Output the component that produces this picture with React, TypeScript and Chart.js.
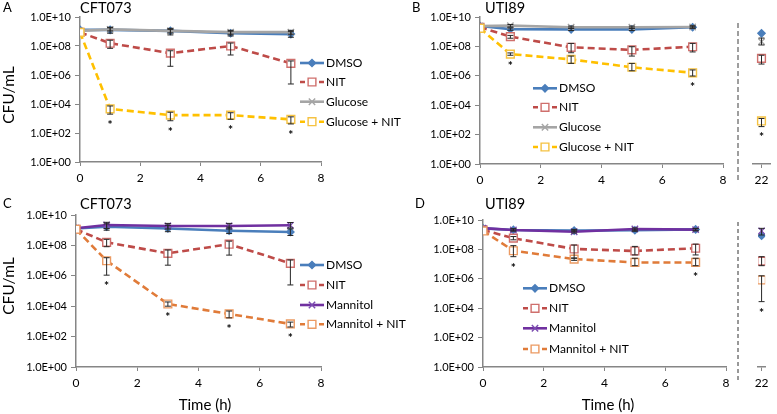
import React, { useEffect, useRef } from "react";
import { Chart, registerables } from "chart.js";
import { drawPoint } from "chart.js/helpers";

Chart.register(...registerables);

const FAMILY = "Lato, 'Open Sans', 'DejaVu Sans', sans-serif";
Chart.defaults.font.family = FAMILY;

// ---------- shared axis data ----------
const times = [0, 1, 3, 5, 7];
const lateTimes = [22];
const xTicks = [0, 2, 4, 6, 8];
const xTickLabels = ["0", "2", "4", "6", "8"];
const lateTicks = [22];
const lateTickLabels = ["22"];
const yTicks = [1, 1e2, 1e4, 1e6, 1e8, 1e10];
const yTickLabels = ["1.0E+00", "1.0E+02", "1.0E+04", "1.0E+06", "1.0E+08", "1.0E+10"];

const glucoseSeries = ["DMSO", "NIT", "Glucose", "Glucose + NIT"];
const mannitolSeries = ["DMSO", "NIT", "Mannitol", "Mannitol + NIT"];

// ---------- Panel A: CFT073, glucose ----------
const aDMSO = [1.3e9, 1.3e9, 1.1e9, 7.6e8, 6.6e8];
const aDMSOLo = [null, 7.6e8, 5.8e8, 4.9e8, 4.0e8];
const aDMSOHi = [null, 1.95e9, 1.65e9, 1.05e9, 9.8e8];
const aNIT = [8.7e8, 1.55e8, 3.2e7, 1.0e8, 6.3e6];
const aNITLo = [null, 6.9e7, 4.0e6, 2.4e7, 2.4e5];
const aNITHi = [null, 2.5e8, 4.7e7, 1.6e8, 9.3e6];
const aGlc = [1.1e9, 1.4e9, 1.1e9, 9.0e8, 9.0e8];
const aGlcLo = [null, 1.1e9, 8.0e8, 6.5e8, 6.5e8];
const aGlcHi = [null, 1.8e9, 1.4e9, 1.2e9, 1.2e9];
const aGlcNIT = [8.7e8, 4.6e3, 1.7e3, 1.7e3, 870];
const aGlcNITLo = [null, 2.0e3, 700, 880, 420];
const aGlcNITHi = [null, 7.3e3, 2.7e3, 2.5e3, 1.3e3];
const aGlcNITSig = [false, true, true, true, true];

// ---------- Panel B: UTI89, glucose ----------
const bDMSO = [2.45e9, 1.5e9, 1.45e9, 1.45e9, 2.0e9];
const bDMSOLo = [null, 1.25e9, 1.2e9, 1.2e9, 1.7e9];
const bDMSOHi = [null, 1.8e9, 1.75e9, 1.75e9, 2.4e9];
const bNIT = [2.0e9, 4.6e8, 8.7e7, 5.8e7, 9.5e7];
const bNITLo = [null, 3.6e8, 3.7e7, 2.2e7, 4.2e7];
const bNITHi = [null, 5.6e8, 1.6e8, 9.5e7, 1.6e8];
const bGlc = [2.45e9, 2.6e9, 2.0e9, 2.0e9, 2.1e9];
const bGlcLo = [null, 2.1e9, 1.7e9, 1.7e9, 1.8e9];
const bGlcHi = [null, 3.1e9, 2.4e9, 2.4e9, 2.5e9];
const bGlcNIT = [1.7e9, 3.0e7, 1.3e7, 3.8e6, 1.6e6];
const bGlcNITLo = [null, 2.5e7, 7.0e6, 2.2e6, 9.7e5];
const bGlcNITHi = [null, 3.6e7, 2.2e7, 7.0e6, 2.5e6];
const bGlcNITSig = [false, true, false, false, true];
// 22 h
const bDMSO22 = [7.8e8];
const bNIT22 = [1.55e7];
const bNIT22Lo = [6.3e6];
const bNIT22Hi = [2.5e7];
const bGlc22 = [2.1e8];
const bGlc22Lo = [1.25e8];
const bGlc22Hi = [3.7e8];
const bGlcNIT22 = [850];
const bGlcNIT22Lo = [350];
const bGlcNIT22Hi = [1.25e3];
const bGlcNIT22Sig = [true];

// ---------- Panel C: CFT073, mannitol ----------
const cDMSO = [1.3e9, 1.7e9, 1.3e9, 9.3e8, 7.6e8];
const cDMSOLo = [null, 1.0e9, 8.0e8, 6.0e8, 4.5e8];
const cDMSOHi = [null, 2.6e9, 2.1e9, 1.6e9, 1.2e9];
const cNIT = [1.15e9, 1.6e8, 3.0e7, 1.2e8, 6.6e6];
const cNITLo = [null, 8.2e7, 5.0e6, 2.3e7, 2.5e5];
const cNITHi = [null, 2.5e8, 5.0e7, 1.9e8, 1.1e7];
const cMan = [1.35e9, 2.2e9, 1.9e9, 1.9e9, 2.1e9];
const cManLo = [null, 1.3e9, 1.2e9, 1.2e9, 1.4e9];
const cManHi = [null, 3.3e9, 2.8e9, 2.8e9, 3.2e9];
const cManNIT = [1.15e9, 9.8e6, 1.4e4, 3.1e3, 680];
const cManNITLo = [null, 1.1e6, 1.0e4, 1.7e3, 430];
const cManNITHi = [null, 1.55e7, 1.9e4, 4.8e3, 900];
const cManNITSig = [false, true, true, true, true];

// ---------- Panel D: UTI89, mannitol ----------
const dDMSO = [2.7e9, 2.1e9, 1.9e9, 2.0e9, 2.3e9];
const dDMSOLo = [null, 1.8e9, 1.6e9, 1.7e9, 2.0e9];
const dDMSOHi = [null, 2.5e9, 2.3e9, 2.4e9, 2.7e9];
const dNIT = [2.1e9, 5.8e8, 1.07e8, 7.8e7, 1.2e8];
const dNITLo = [null, 4.5e8, 2.5e7, 4.2e7, 4.2e7];
const dNITHi = [null, 7.5e8, 2.0e8, 1.6e8, 2.3e8];
const dMan = [2.8e9, 2.1e9, 1.6e9, 2.45e9, 2.2e9];
const dManLo = [null, 1.8e9, 1.3e9, 2.0e9, 1.8e9];
const dManHi = [null, 2.5e9, 2.0e9, 2.9e9, 2.6e9];
const dManNIT = [1.8e9, 8.1e7, 2.2e7, 1.3e7, 1.3e7];
const dManNITLo = [null, 3.2e7, 1.8e7, 7.8e6, 7.8e6];
const dManNITHi = [null, 1.8e8, 2.6e7, 2.5e7, 2.5e7];
const dManNITSig = [false, true, false, false, true];
// 22 h
const dDMSO22 = [8.5e8];
const dNIT22 = [1.6e7];
const dNIT22Lo = [7.8e6];
const dNIT22Hi = [3.2e7];
const dMan22 = [1.8e9];
const dMan22Lo = [9.5e8];
const dMan22Hi = [2.7e9];
const dManNIT22 = [8.3e5];
const dManNIT22Lo = [2.8e4];
const dManNIT22Hi = [1.6e6];
const dManNIT22Sig = [true];

// ---------- styles ----------
type Sty = { line: string; dash: number[]; point: string; radius: number; fill: string; edge: string };
const S_DMSO: Sty = { line: "#4A7EBB", dash: [], point: "rectRot", radius: 3.6, fill: "#4A7EBB", edge: "#4A7EBB" };
const S_NIT: Sty = { line: "#BE4B48", dash: [7, 4], point: "rect", radius: 5.5, fill: "#FFFFFF", edge: "#CF6F6C" };
const S_GLC: Sty = { line: "#A5A5A5", dash: [], point: "crossRot", radius: 4.5, fill: "#A5A5A5", edge: "#A5A5A5" };
const S_GLCNIT: Sty = { line: "#FFC000", dash: [7, 4], point: "rect", radius: 5.5, fill: "#FFFFFF", edge: "#F5C242" };
const S_MAN: Sty = { line: "#7030A0", dash: [], point: "crossRot", radius: 4.5, fill: "#7030A0", edge: "#7B4DB0" };
const S_MANNIT: Sty = { line: "#E07B39", dash: [7, 4], point: "rect", radius: 5.5, fill: "#FFFFFF", edge: "#EC9A62" };

function makeDs(label: string, sty: Sty, xs: number[], ys: number[], idx: number, lo?: any[], hi?: any[], sig?: boolean[]) {
  return {
    label,
    data: xs.map((x, j) => ({ x, y: ys[j] })),
    borderColor: sty.line,
    backgroundColor: sty.line,
    borderWidth: 2.6,
    borderDash: sty.dash,
    pointStyle: sty.point,
    pointRadius: sty.radius,
    pointHoverRadius: sty.radius,
    pointBackgroundColor: sty.fill,
    pointBorderColor: sty.edge,
    pointBorderWidth: 1.4,
    tension: 0,
    fill: false,
    order: 10 - idx,
    errLo: lo,
    errHi: hi,
    sig,
  };
}

// ---------- plugins ----------
const errorBarPlugin = {
  id: "errorBars",
  afterDatasetsDraw(chart: any) {
    const ctx = chart.ctx;
    const ys = chart.scales.y;
    chart.data.datasets.forEach((ds: any, i: number) => {
      const meta = chart.getDatasetMeta(i);
      meta.data.forEach((pt: any, j: number) => {
        const x = pt.x;
        let bottom = pt.y;
        if (ds.errLo && ds.errHi && ds.errLo[j] != null && ds.errHi[j] != null) {
          const yl = ys.getPixelForValue(ds.errLo[j]);
          const yh = ys.getPixelForValue(ds.errHi[j]);
          ctx.save();
          ctx.strokeStyle = "#262626";
          ctx.lineWidth = 1;
          ctx.beginPath();
          ctx.moveTo(x, yl);
          ctx.lineTo(x, yh);
          ctx.moveTo(x - 3, yl);
          ctx.lineTo(x + 3, yl);
          ctx.moveTo(x - 3, yh);
          ctx.lineTo(x + 3, yh);
          ctx.stroke();
          ctx.restore();
          bottom = Math.max(bottom, yl);
        }
        if (ds.sig && ds.sig[j]) {
          ctx.save();
          ctx.fillStyle = "#000";
          ctx.font = `bold 12px ${FAMILY}`;
          ctx.textAlign = "center";
          ctx.textBaseline = "middle";
          ctx.fillText("*", x, bottom + 11);
          ctx.restore();
        }
      });
    });
  },
};

function keyPlugin(x: number, ys: number[]) {
  return {
    id: "seriesKey",
    afterDraw(chart: any) {
      const ctx = chart.ctx;
      const len = 24;
      const mid = x + len / 2;
      chart.data.datasets.forEach((ds: any, i: number) => {
        const y = ys[i];
        ctx.save();
        ctx.strokeStyle = ds.borderColor;
        ctx.lineWidth = ds.borderWidth;
        const dash = ds.borderDash && ds.borderDash.length ? [5, 3] : [];
        ctx.setLineDash(dash);
        // left half, from outer end inward
        ctx.beginPath();
        ctx.moveTo(x, y);
        ctx.lineTo(mid, y);
        ctx.stroke();
        // right half, from outer end inward
        ctx.beginPath();
        ctx.moveTo(x + len, y);
        ctx.lineTo(mid, y);
        ctx.stroke();
        ctx.setLineDash([]);
        ctx.fillStyle = ds.pointBackgroundColor;
        ctx.strokeStyle = ds.pointBorderColor;
        ctx.lineWidth = ds.pointBorderWidth;
        drawPoint(ctx, { pointStyle: ds.pointStyle, rotation: 0, borderWidth: ds.pointBorderWidth, radius: ds.pointRadius } as any, mid, y);
        ctx.fillStyle = "#000";
        ctx.font = `12px ${FAMILY}`;
        ctx.textAlign = "left";
        ctx.textBaseline = "middle";
        ctx.fillText(ds.label, x + len + 2, y);
        ctx.restore();
      });
    },
  };
}

type TextItem = { text: string; x: number; y: number; size: number; rotate?: boolean; align?: CanvasTextAlign };
function textPlugin(items: TextItem[]) {
  return {
    id: "panelText",
    afterDraw(chart: any) {
      const ctx = chart.ctx;
      items.forEach((it) => {
        ctx.save();
        ctx.font = `${it.size}px ${FAMILY}`;
        ctx.fillStyle = "#000";
        ctx.textAlign = it.align ?? "left";
        ctx.textBaseline = "middle";
        ctx.translate(it.x, it.y);
        if (it.rotate) ctx.rotate(-Math.PI / 2);
        ctx.fillText(it.text, 0, 0);
        ctx.restore();
      });
    },
  };
}

function dividerPlugin(dx: number, topOff: number, bottomOff: number, color: string, width: number, dash: number[]) {
  return {
    id: "divider",
    afterDraw(chart: any) {
      const ctx = chart.ctx;
      const a = chart.chartArea;
      ctx.save();
      ctx.strokeStyle = color;
      ctx.lineWidth = width;
      ctx.setLineDash(dash);
      ctx.beginPath();
      ctx.moveTo(a.left + dx, a.top + topOff);
      ctx.lineTo(a.left + dx, a.bottom + bottomOff);
      ctx.stroke();
      ctx.restore();
    },
  };
}

// ---------- chart specs ----------
type Spec = {
  key: string; left: number; top: number; w: number; h: number;
  datasets: any[]; pad: { top: number; right: number; left: number; bottom: number };
  showY: boolean; yWidth: number; xHeight: number; xMin: number; xMax: number;
  ticks: number[]; tickLabels: string[]; plugins: any[];
};

const AXIS_GREY = "#868686";

function buildConfig(s: Spec): any {
  return {
    type: "line",
    data: { datasets: s.datasets },
    plugins: [errorBarPlugin, ...s.plugins],
    options: {
      animation: false,
      responsive: false,
      devicePixelRatio: 1,
      layout: { padding: s.pad },
      events: [],
      plugins: { legend: { display: false }, tooltip: { enabled: false }, title: { display: false } },
      scales: {
        x: {
          type: "linear",
          min: s.xMin,
          max: s.xMax,
          afterBuildTicks: (sc: any) => { sc.ticks = s.ticks.map((v) => ({ value: v })); },
          afterFit: (sc: any) => { sc.height = s.xHeight; },
          ticks: { callback: (_v: any, i: number) => s.tickLabels[i], font: { size: 12, family: FAMILY }, color: "#000", padding: 5, maxRotation: 0, autoSkip: false },
          grid: { display: true, drawOnChartArea: false, drawTicks: true, tickLength: 4, color: AXIS_GREY, lineWidth: 1 },
          border: { display: true, color: AXIS_GREY, width: 1.5 },
        },
        y: {
          type: "logarithmic",
          display: s.showY,
          min: 1,
          max: 1e10,
          afterBuildTicks: (sc: any) => { sc.ticks = yTicks.map((v) => ({ value: v })); },
          afterFit: (sc: any) => { sc.width = s.yWidth; },
          ticks: { callback: (_v: any, i: number) => yTickLabels[i], font: { size: 11, family: FAMILY }, color: "#000", padding: 4, autoSkip: false },
          grid: { display: true, drawOnChartArea: false, drawTicks: true, tickLength: 5, color: AXIS_GREY, lineWidth: 1 },
          border: { display: true, color: AXIS_GREY, width: 1.5 },
        },
      },
    },
  };
}

const specs: Spec[] = [
  {
    key: "A", left: 0, top: 0, w: 420, h: 200,
    datasets: [
      makeDs(glucoseSeries[0], S_DMSO, times, aDMSO, 0, aDMSOLo, aDMSOHi),
      makeDs(glucoseSeries[1], S_NIT, times, aNIT, 1, aNITLo, aNITHi),
      makeDs(glucoseSeries[2], S_GLC, times, aGlc, 2, aGlcLo, aGlcHi),
      makeDs(glucoseSeries[3], S_GLCNIT, times, aGlcNIT, 3, aGlcNITLo, aGlcNITHi, aGlcNITSig),
    ],
    pad: { top: 17, right: 99, left: 0, bottom: 0 },
    showY: true, yWidth: 80, xHeight: 38, xMin: 0, xMax: 8, ticks: xTicks, tickLabels: xTickLabels,
    plugins: [
      keyPlugin(300, [63, 82, 101.7, 121.7]),
      textPlugin([
        { text: "A", x: 3, y: 8, size: 13 },
        { text: "CFT073", x: 80, y: 8, size: 14.5 },
        { text: "CFU/mL", x: 9, y: 95, size: 15.5, rotate: true, align: "center" },
      ]),
    ],
  },
  {
    key: "C", left: 0, top: 195, w: 420, h: 219,
    datasets: [
      makeDs(mannitolSeries[0], S_DMSO, times, cDMSO, 0, cDMSOLo, cDMSOHi),
      makeDs(mannitolSeries[1], S_NIT, times, cNIT, 1, cNITLo, cNITHi),
      makeDs(mannitolSeries[2], S_MAN, times, cMan, 2, cManLo, cManHi),
      makeDs(mannitolSeries[3], S_MANNIT, times, cManNIT, 3, cManNITLo, cManNITHi, cManNITSig),
    ],
    pad: { top: 20, right: 99, left: 0, bottom: 0 },
    showY: true, yWidth: 76, xHeight: 47, xMin: 0, xMax: 8, ticks: xTicks, tickLabels: xTickLabels,
    plugins: [
      keyPlugin(300, [70, 90, 110, 129.3]),
      textPlugin([
        { text: "C", x: 3, y: 9, size: 13 },
        { text: "CFT073", x: 80, y: 9, size: 14.5 },
        { text: "CFU/mL", x: 9, y: 91, size: 15.5, rotate: true, align: "center" },
        { text: "Time (h)", x: 205, y: 210, size: 15, align: "center" },
      ]),
    ],
  },
  {
    key: "B", left: 390, top: 0, w: 345, h: 200,
    datasets: [
      makeDs(glucoseSeries[0], S_DMSO, times, bDMSO, 0, bDMSOLo, bDMSOHi),
      makeDs(glucoseSeries[1], S_NIT, times, bNIT, 1, bNITLo, bNITHi),
      makeDs(glucoseSeries[2], S_GLC, times, bGlc, 2, bGlcLo, bGlcHi),
      makeDs(glucoseSeries[3], S_GLCNIT, times, bGlcNIT, 3, bGlcNITLo, bGlcNITHi, bGlcNITSig),
    ],
    pad: { top: 17, right: 12, left: 0, bottom: 0 },
    showY: true, yWidth: 90, xHeight: 36, xMin: 0, xMax: 8, ticks: xTicks, tickLabels: xTickLabels,
    plugins: [
      keyPlugin(143, [88.3, 107.3, 127.3, 147]),
      textPlugin([
        { text: "B", x: 22, y: 8, size: 13 },
        { text: "UTI89", x: 95, y: 8, size: 14.5 },
      ]),
    ],
  },
  {
    key: "D", left: 390, top: 195, w: 345, h: 219,
    datasets: [
      makeDs(mannitolSeries[0], S_DMSO, times, dDMSO, 0, dDMSOLo, dDMSOHi),
      makeDs(mannitolSeries[1], S_NIT, times, dNIT, 1, dNITLo, dNITHi),
      makeDs(mannitolSeries[2], S_MAN, times, dMan, 2, dManLo, dManHi),
      makeDs(mannitolSeries[3], S_MANNIT, times, dManNIT, 3, dManNITLo, dManNITHi, dManNITSig),
    ],
    pad: { top: 25, right: 9, left: 0, bottom: 0 },
    showY: true, yWidth: 93, xHeight: 47, xMin: 0, xMax: 8, ticks: xTicks, tickLabels: xTickLabels,
    plugins: [
      keyPlugin(133, [93.3, 113.3, 133.3, 154]),
      textPlugin([
        { text: "D", x: 25, y: 9, size: 13 },
        { text: "UTI89", x: 95, y: 9, size: 14.5 },
        { text: "Time (h)", x: 218, y: 210, size: 15, align: "center" },
      ]),
    ],
  },
  {
    key: "B22", left: 733, top: 0, w: 44, h: 200,
    datasets: [
      makeDs(glucoseSeries[0], S_DMSO, lateTimes, bDMSO22, 0),
      makeDs(glucoseSeries[1], S_NIT, lateTimes, bNIT22, 1, bNIT22Lo, bNIT22Hi),
      makeDs(glucoseSeries[2], S_GLC, lateTimes, bGlc22, 2, bGlc22Lo, bGlc22Hi),
      makeDs(glucoseSeries[3], S_GLCNIT, lateTimes, bGlcNIT22, 3, bGlcNIT22Lo, bGlcNIT22Hi, bGlcNIT22Sig),
    ],
    pad: { top: 17, right: 7, left: 20, bottom: 0 },
    showY: false, yWidth: 0, xHeight: 36, xMin: 21, xMax: 23, ticks: lateTicks, tickLabels: lateTickLabels,
    plugins: [dividerPlugin(-15, 6, 19, "#7F7F7F", 1.5, [5, 3])],
  },
  {
    key: "D22", left: 733, top: 195, w: 44, h: 219,
    datasets: [
      makeDs(mannitolSeries[0], S_DMSO, lateTimes, dDMSO22, 0),
      makeDs(mannitolSeries[1], S_NIT, lateTimes, dNIT22, 1, dNIT22Lo, dNIT22Hi),
      makeDs(mannitolSeries[2], S_MAN, lateTimes, dMan22, 2, dMan22Lo, dMan22Hi),
      makeDs(mannitolSeries[3], S_MANNIT, lateTimes, dManNIT22, 3, dManNIT22Lo, dManNIT22Hi, dManNIT22Sig),
    ],
    pad: { top: 25, right: 1, left: 25, bottom: 0 },
    showY: false, yWidth: 0, xHeight: 47, xMin: 21, xMax: 23, ticks: lateTicks, tickLabels: lateTickLabels,
    plugins: [dividerPlugin(-20, 2, 16, "#333333", 1, [4, 3])],
  },
];

function ChartBox({ spec }: { spec: Spec }) {
  const ref = useRef<HTMLCanvasElement>(null);
  useEffect(() => {
    const chart = new Chart(ref.current as HTMLCanvasElement, buildConfig(spec));
    return () => chart.destroy();
  }, [spec]);
  return (
    <canvas
      ref={ref}
      width={spec.w}
      height={spec.h}
      style={{ position: "absolute", left: spec.left, top: spec.top, width: spec.w, height: spec.h }}
    />
  );
}

export default function App() {
  return (
    <div style={{ position: "absolute", left: 0, top: 0, width: 777, height: 414, background: "#FFFFFF", overflow: "hidden" }}>
      {specs.map((s) => (
        <ChartBox key={s.key} spec={s} />
      ))}
    </div>
  );
}
